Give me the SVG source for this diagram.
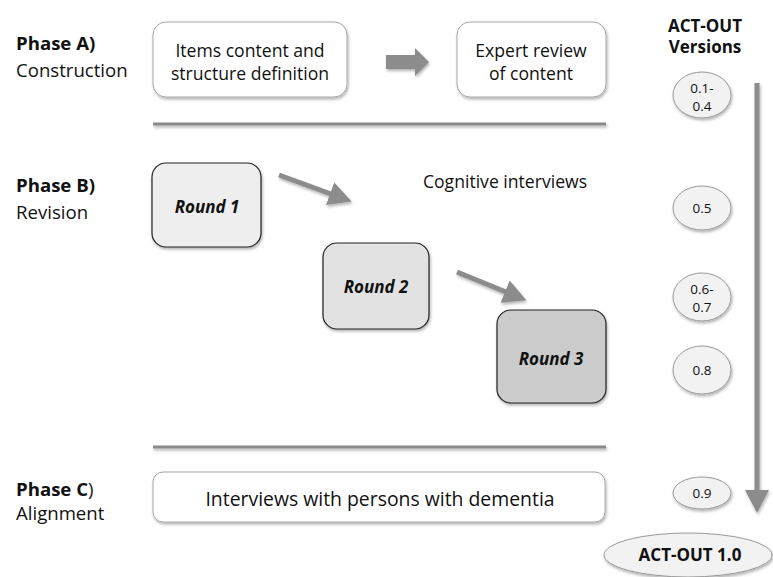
<svg xmlns="http://www.w3.org/2000/svg" width="773" height="577" viewBox="0 0 773 577">
<style>
text{font-family:"Open Sans","Liberation Sans",sans-serif;fill:#111}
.ph{font-size:18.6px}
.b{font-weight:bold}
.box{font-size:17.6px;text-anchor:middle}
.rnd{font-size:17px;font-weight:bold;font-style:italic;text-anchor:middle}
.ver{font-size:13.5px;text-anchor:middle}
.hd{font-size:17px;font-weight:bold;text-anchor:middle}
.wbox{fill:#fff;stroke:#a6a6a6;stroke-width:1}
.rbox{stroke:#222;stroke-width:1.2}
.vel{fill:#f2f2f2;stroke:#999;stroke-width:1}
.sep{stroke:#8a8a8a;stroke-width:3}
.arr{stroke:#8c8c8c;stroke-width:5;fill:none}
</style>
<defs>
<filter id="sh" x="-10%" y="-10%" width="130%" height="140%">
<feDropShadow dx="1" dy="2" stdDeviation="1.5" flood-color="#000" flood-opacity="0.3"/>
</filter>
<filter id="shu" filterUnits="userSpaceOnUse" x="0" y="0" width="773" height="577">
<feDropShadow dx="1" dy="2" stdDeviation="1.5" flood-color="#000" flood-opacity="0.3"/>
</filter>
<marker id="ah" markerUnits="userSpaceOnUse" markerWidth="26" markerHeight="26" refX="1" refY="12" orient="auto">
<path d="M0,0 L23,12 L0,24 z" fill="#8c8c8c"/>
</marker>
</defs>

<g id="phaseA-label">
<text class="ph b" x="16" y="50">Phase A)</text>
<text class="ph" x="16" y="77">Construction</text>
</g>
<g id="phaseB-label">
<text class="ph b" x="16" y="192">Phase B)</text>
<text class="ph" x="16" y="219">Revision</text>
</g>
<g id="phaseC-label">
<text class="ph" x="16" y="496"><tspan class="b">Phase C</tspan>)</text>
<text class="ph" x="16" y="520">Alignment</text>
</g>

<g id="items-box">
<rect class="wbox" x="153" y="22" width="194" height="75" rx="13" filter="url(#sh)"/>
<text class="box" x="250" y="57">Items content and</text>
<text class="box" x="250" y="80">structure definition</text>
</g>
<g id="expert-box">
<rect class="wbox" x="457" y="22" width="149" height="75" rx="13" filter="url(#sh)"/>
<text class="box" x="531" y="57">Expert review</text>
<text class="box" x="531" y="80">of content</text>
</g>

<g id="separators" filter="url(#shu)">
<line class="sep" x1="153" y1="124" x2="606" y2="124"/>
<line class="sep" x1="153" y1="447" x2="606" y2="447"/>
</g>

<g id="round1">
<rect class="rbox" x="152" y="163" width="109" height="84" rx="14" fill="#eeeeee" filter="url(#sh)"/>
<text class="rnd" x="207" y="213">Round 1</text>
</g>
<g id="round2">
<rect class="rbox" x="323" y="243" width="106" height="86" rx="14" fill="#e2e2e2" filter="url(#sh)"/>
<text class="rnd" x="376" y="293">Round 2</text>
</g>
<g id="round3">
<rect class="rbox" x="497" y="310" width="109" height="93" rx="14" fill="#cbcbcb" filter="url(#sh)"/>
<text class="rnd" x="551" y="365">Round 3</text>
</g>

<g id="cognitive-label">
<text class="box" x="505" y="188">Cognitive interviews</text>
</g>

<g id="phaseC-box">
<rect class="wbox" x="153" y="472" width="452" height="50" rx="10" filter="url(#sh)"/>
<text x="380" y="506" style="font-size:19.4px;text-anchor:middle">Interviews with persons with dementia</text>
</g>

<g id="versions-title">
<text class="hd" x="705" y="32">ACT-OUT</text>
<text class="hd" x="705" y="53">Versions</text>
</g>

<g id="v01-04">
<ellipse class="vel" cx="702" cy="95" rx="29" ry="23" filter="url(#sh)"/>
<text class="ver" x="702" y="93">0.1-</text>
<text class="ver" x="702" y="111">0.4</text>
</g>
<g id="v05">
<ellipse class="vel" cx="702" cy="208" rx="29" ry="22" filter="url(#sh)"/>
<text class="ver" x="702" y="213">0.5</text>
</g>
<g id="v06-07">
<ellipse class="vel" cx="702" cy="297" rx="29" ry="24" filter="url(#sh)"/>
<text class="ver" x="702" y="294">0.6-</text>
<text class="ver" x="702" y="312">0.7</text>
</g>
<g id="v08">
<ellipse class="vel" cx="702" cy="370" rx="29" ry="24" filter="url(#sh)"/>
<text class="ver" x="702" y="375">0.8</text>
</g>
<g id="v09">
<ellipse class="vel" cx="702" cy="493" rx="29" ry="16" filter="url(#sh)"/>
<text class="ver" x="702" y="498">0.9</text>
</g>
<g id="v10">
<ellipse class="vel" cx="688" cy="555" rx="84" ry="22" filter="url(#sh)"/>
<text class="hd" x="690" y="561">ACT-OUT 1.0</text>
</g>

<g id="connectors" filter="url(#shu)">
<path d="M386,55 H415 V48 L429,62 L415,76 V69 H386 Z" fill="#8c8c8c"/>
<line class="arr" x1="279" y1="175" x2="331" y2="194" marker-end="url(#ah)"/>
<line class="arr" x1="457" y1="272" x2="506" y2="292" marker-end="url(#ah)"/>
<line class="arr" x1="757" y1="83" x2="757" y2="491" marker-end="url(#ah)"/>
</g>
</svg>
